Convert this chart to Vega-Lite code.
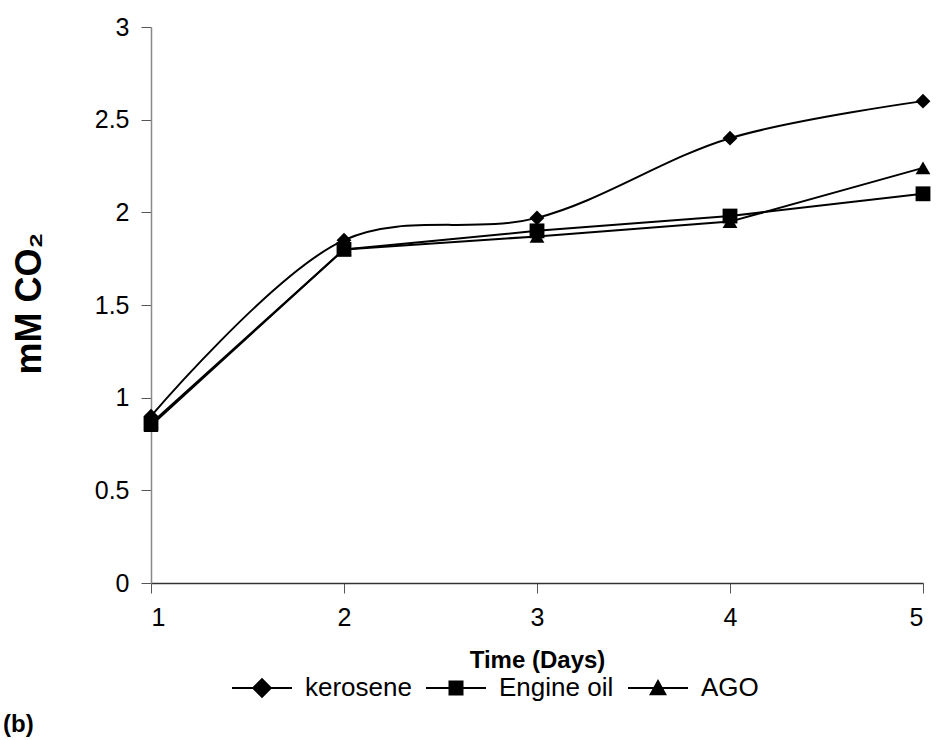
{
  "$schema": "https://vega.github.io/schema/vega-lite/v6.json",
  "width": 772,
  "height": 556,
  "autosize": {"type": "none"},
  "padding": {"left": 151, "top": 27, "right": 16, "bottom": 157},
  "background": "white",
  "title": {"text": "(b)", "orient": "bottom", "anchor": "start", "frame": "bounds", "fontSize": 24, "fontWeight": "bold", "font": "Liberation Sans", "color": "black", "dx": -8, "offset": 12},
  "config": {
    "view": {"stroke": null},
    "font": "Liberation Sans"
  },
  "data": {
    "values": [
      {"day": 1, "co2": 0.90, "series": "kerosene"},
      {"day": 2, "co2": 1.85, "series": "kerosene"},
      {"day": 3, "co2": 1.97, "series": "kerosene"},
      {"day": 4, "co2": 2.40, "series": "kerosene"},
      {"day": 5, "co2": 2.60, "series": "kerosene"},
      {"day": 1, "co2": 0.86, "series": "Engine oil"},
      {"day": 2, "co2": 1.80, "series": "Engine oil"},
      {"day": 3, "co2": 1.90, "series": "Engine oil"},
      {"day": 4, "co2": 1.98, "series": "Engine oil"},
      {"day": 5, "co2": 2.10, "series": "Engine oil"},
      {"day": 1, "co2": 0.85, "series": "AGO"},
      {"day": 2, "co2": 1.80, "series": "AGO"},
      {"day": 3, "co2": 1.87, "series": "AGO"},
      {"day": 4, "co2": 1.95, "series": "AGO"},
      {"day": 5, "co2": 2.24, "series": "AGO"}
    ]
  },
  "encoding": {
    "x": {
      "field": "day", "type": "quantitative",
      "scale": {"domain": [1, 5], "nice": false, "zero": false},
      "axis": {
        "values": [1, 2, 3, 4, 5], "format": "d", "grid": false,
        "title": "Time (Days)", "titleFontSize": 24, "titleFontWeight": "bold", "titleColor": "black", "titlePadding": 18,
        "labelFontSize": 25, "labelColor": "black", "labelPadding": 12,
        "tickSize": 10, "tickColor": "#555", "domainColor": "#333", "domainWidth": 1.5
      }
    },
    "y": {
      "field": "co2", "type": "quantitative",
      "scale": {"domain": [0, 3], "nice": false},
      "axis": {
        "values": [0, 0.5, 1, 1.5, 2, 2.5, 3], "format": ".1~f", "grid": false,
        "title": "mM CO₂", "titleFontSize": 36, "titleFontWeight": "bold", "titleColor": "black",
        "titleX": -122, "titleY": 276, "titleAngle": -90, "titleAlign": "center", "titleBaseline": "middle",
        "labelFontSize": 25, "labelColor": "black", "labelPadding": 12,
        "tickSize": 10, "tickColor": "#555", "domainColor": "#888", "domainWidth": 1.5
      }
    }
  },
  "layer": [
    {
      "transform": [{"filter": "datum.series === 'kerosene'"}],
      "mark": {"type": "line", "color": "black", "strokeWidth": 2, "interpolate": "catmull-rom"},
      "encoding": {}
    },
    {
      "transform": [{"filter": "datum.series !== 'kerosene'"}],
      "mark": {"type": "line", "color": "black", "strokeWidth": 2, "interpolate": "linear"},
      "encoding": {"detail": {"field": "series", "type": "nominal"}}
    },
    {
      "mark": {"type": "point", "filled": true, "color": "black", "size": 220, "opacity": 1},
      "encoding": {
        "shape": {
          "field": "series", "type": "nominal",
          "scale": {"domain": ["kerosene", "Engine oil", "AGO"], "range": ["diamond", "square", "triangle-up"]},
          "legend": null
        }
      }
    },
    {
      "transform": [{"filter": "datum.day > 100"}],
      "mark": {"type": "point", "filled": true, "color": "black", "opacity": 1},
      "encoding": {
        "shape": {
          "field": "series", "type": "nominal",
          "scale": {"domain": ["kerosene", "Engine oil", "AGO"], "range": [
            "M-1,-0.035H1V0.035H-1Z M0,-0.34L0.34,0L0,0.34L-0.34,0Z",
            "M-1,-0.035H1V0.035H-1Z M-0.25,-0.25H0.25V0.25H-0.25Z",
            "M-1,-0.035H1V0.035H-1Z M0,-0.3L0.3,0.24H-0.3Z"
          ]},
          "legend": {
            "orient": "none", "legendX": 81, "legendY": 631, "direction": "horizontal", "title": null,
            "labelFontSize": 26, "labelColor": "black", "symbolSize": 3600,
            "symbolFillColor": "black", "symbolStrokeWidth": 0,
            "columnPadding": 14, "labelOffset": 13
          }
        }
      }
    }
  ],
  "resolve": {"scale": {"shape": "independent"}, "legend": {"shape": "independent"}}
}
